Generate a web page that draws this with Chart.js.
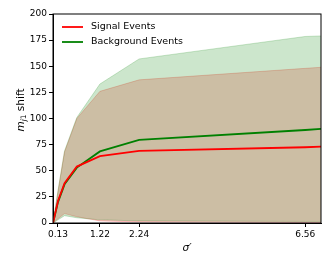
<!DOCTYPE html>
<html>
<head>
<meta charset="utf-8">
<script src="https://cdn.jsdelivr.net/npm/chart.js@4.4.0/dist/chart.umd.min.js"></script>
<style>
  html, body { margin: 0; padding: 0; background: #fff; }
  #wrap { width: 332px; height: 266px; }
</style>
</head>
<body>
<div id="wrap"><canvas id="chart" width="332" height="266"></canvas></div>
<script>
// valores
const sigma = [0, 0.13, 0.3, 0.62, 1.22, 2.24, 6.56, 6.97];
const xTicks = [0.13, 1.22, 2.24, 6.56];

const signalMean = [0, 21, 38, 54, 64, 69, 72.5, 73];
const signalUpper = [0, 30, 68, 100, 126, 137, 148, 149];
const signalLower = [0, 4, 9, 6, 2, 1, 0.5, 0.5];

const backgroundMean = [0, 20, 37, 53, 68.5, 79.5, 89, 90];
const backgroundUpper = [0, 31, 69, 101, 133, 157, 178.5, 179];
const backgroundLower = [0, 3, 7, 5, 3, 2, 1.5, 1.5];

const toPoints = (ys) => ys.map((y, i) => ({ x: sigma[i], y: y }));

const FONT = 'DejaVu Sans';

// Plugin: marco, leyenda y titulos de ejes
const decoraciones = {
    id: 'decoraciones',
    afterDraw(chart) {
        const ctx = chart.ctx;
        const a = chart.chartArea;
        ctx.save();
        // marco de los ejes
        ctx.strokeStyle = '#000';
        ctx.lineWidth = 1;
        ctx.strokeRect(a.left, a.top, a.right - a.left, a.bottom - a.top);

        // leyenda
        const items = chart.data.datasets.filter(d => d.showInLegend);
        ctx.font = '9.5px ' + FONT;
        ctx.textBaseline = 'middle';
        items.forEach((d, i) => {
            const y = a.top + 13 + i * 15;
            ctx.strokeStyle = d.borderColor;
            ctx.lineWidth = 1.8;
            ctx.beginPath();
            ctx.moveTo(a.left + 9, y);
            ctx.lineTo(a.left + 30, y);
            ctx.stroke();
            ctx.fillStyle = '#000';
            ctx.textAlign = 'left';
            ctx.fillText(d.label, a.left + 38, y);
        });

        // titulo eje x
        ctx.font = 'italic 10.5px ' + FONT;
        ctx.textAlign = 'center';
        ctx.textBaseline = 'middle';
        ctx.fillText('\u03C3\u2032', (a.left + a.right) / 2, 248);

        // titulo eje y con subindice
        ctx.translate(20, 110);
        ctx.rotate(-Math.PI / 2);
        ctx.textBaseline = 'alphabetic';
        ctx.textAlign = 'left';
        const partes = [
            { t: 'm', f: 'italic 10.5px ' + FONT, dy: 0 },
            { t: 'j', f: 'italic 7.5px ' + FONT, dy: 2 },
            { t: '1', f: '7.5px ' + FONT, dy: 2 },
            { t: ' shift', f: '10.5px ' + FONT, dy: 0 }
        ];
        let total = 0;
        partes.forEach(p => { ctx.font = p.f; total += ctx.measureText(p.t).width; });
        let x = -total / 2;
        partes.forEach(p => {
            ctx.font = p.f;
            ctx.fillText(p.t, x, 4 + p.dy);
            x += ctx.measureText(p.t).width;
        });
        ctx.restore();
    }
};

new Chart(document.getElementById('chart').getContext('2d'), {
    type: 'line',
    data: {
        datasets: [
            {
                label: 'Signal Events',
                data: toPoints(signalMean),
                borderColor: '#ff0000',
                borderWidth: 1.8,
                pointRadius: 0,
                fill: false,
                order: 0,
                showInLegend: true
            },
            {
                label: 'Background Events',
                data: toPoints(backgroundMean),
                borderColor: '#008000',
                borderWidth: 1.8,
                pointRadius: 0,
                fill: false,
                order: 0,
                showInLegend: true
            },
            {
                label: 'bkg upper',
                data: toPoints(backgroundUpper),
                borderColor: 'rgba(0,128,0,0.2)',
                backgroundColor: 'rgba(0,128,0,0.2)',
                borderWidth: 1,
                pointRadius: 0,
                fill: '+1',
                order: 1
            },
            {
                label: 'bkg lower',
                data: toPoints(backgroundLower),
                borderColor: 'rgba(0,128,0,0.2)',
                borderWidth: 1,
                pointRadius: 0,
                fill: false,
                order: 1
            },
            {
                label: 'sig upper',
                data: toPoints(signalUpper),
                borderColor: 'rgba(255,0,0,0.2)',
                backgroundColor: 'rgba(255,0,0,0.2)',
                borderWidth: 1,
                pointRadius: 0,
                fill: '+1',
                order: 2
            },
            {
                label: 'sig lower',
                data: toPoints(signalLower),
                borderColor: 'rgba(255,0,0,0.2)',
                borderWidth: 1,
                pointRadius: 0,
                fill: false,
                order: 2
            }
        ]
    },
    options: {
        responsive: false,
        animation: false,
        layout: { padding: { left: 0, right: 11, top: 14, bottom: 0 } },
        plugins: {
            legend: { display: false },
            tooltip: { enabled: false }
        },
        scales: {
            x: {
                type: 'linear',
                min: 0,
                max: 6.97,
                afterBuildTicks: (scale) => {
                    scale.ticks = xTicks.map(v => ({ value: v }));
                },
                afterFit: (scale) => { scale.height = 43; },
                ticks: {
                    color: '#000',
                    font: { family: FONT, size: 9 },
                    padding: 2,
                    maxRotation: 0,
                    autoSkip: false,
                    callback: (v) => v.toFixed(2)
                },
                grid: { drawOnChartArea: false, drawTicks: true, tickLength: 4, color: '#000' },
                border: { display: true, color: '#000' }
            },
            y: {
                min: 0,
                max: 200,
                afterFit: (scale) => { scale.width = 53; },
                ticks: {
                    stepSize: 25,
                    color: '#000',
                    font: { family: FONT, size: 9 },
                    padding: 2
                },
                grid: { drawOnChartArea: false, drawTicks: true, tickLength: 4, color: '#000' },
                border: { display: true, color: '#000' }
            }
        }
    },
    plugins: [decoraciones]
});
</script>
</body>
</html>
